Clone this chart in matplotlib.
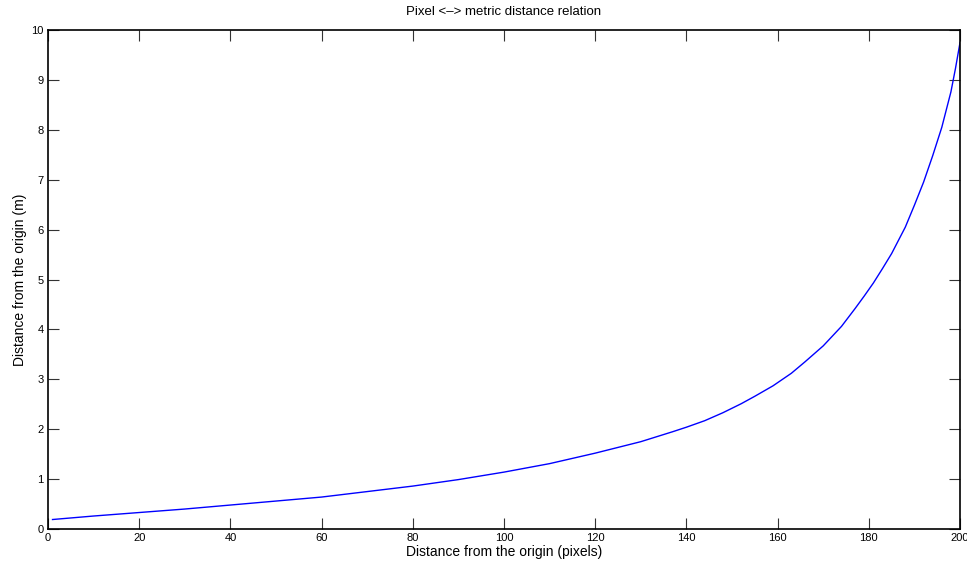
import numpy as np
import matplotlib.pyplot as plt

plt.rcParams.update({'font.size': 8, 'font.family': ['Liberation Sans', 'DejaVu Sans']})

# pixel distance from the origin and the matching metric distance
pixels = [1, 10, 20, 30, 40, 50, 60, 70, 80, 90, 100, 110, 120, 130, 137, 140,
          144, 148, 152, 155, 159, 163, 166, 170, 174, 177, 179, 181, 183, 185,
          188, 190, 192, 194, 196, 198, 199, 200]
metres = [0.19, 0.26, 0.33, 0.40, 0.48, 0.56, 0.64, 0.75, 0.86, 0.99, 1.14, 1.31,
          1.52, 1.75, 1.95, 2.04, 2.17, 2.33, 2.51, 2.66, 2.87, 3.12, 3.35, 3.67,
          4.06, 4.42, 4.67, 4.93, 5.22, 5.52, 6.05, 6.49, 6.95, 7.48, 8.05, 8.76,
          9.23, 9.75]

x_ticks = np.arange(0, 201, 20)
y_ticks = np.arange(0, 11, 1)

fig = plt.figure(figsize=(9.67, 5.63), dpi=100)
ax = fig.add_axes([0.0496, 0.0604, 0.9432, 0.8863])

ax.plot(pixels, metres, color='blue', linewidth=1.0, solid_joinstyle='round')

ax.set_xlim(0, 200)
ax.set_ylim(0, 10)
ax.set_xticks(x_ticks)
ax.set_yticks(y_ticks)
ax.tick_params(direction='in', length=8, width=0.8, top=True, right=True,
               labelsize=8, pad=3, color='#333333')
for s in ax.spines.values():
    s.set_linewidth(1.2)

ax.set_title('Pixel <\u2013> metric distance relation', fontsize=9.5, pad=11)
ax.set_xlabel('Distance from the origin (pixels)', fontsize=10, labelpad=1)
ax.set_ylabel('Distance from the origin (m)', fontsize=10, labelpad=3)

plt.savefig('out.png', dpi=100)
